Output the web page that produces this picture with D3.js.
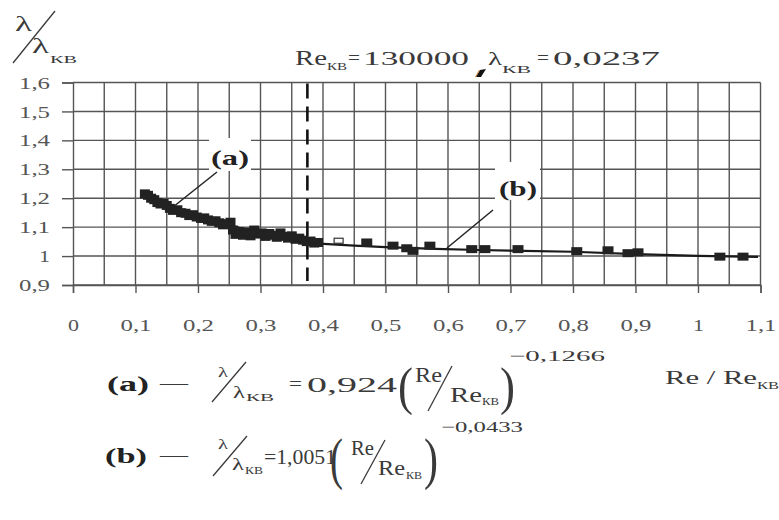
<!DOCTYPE html>
<html><head><meta charset="utf-8">
<script src="https://cdn.jsdelivr.net/npm/d3@7"></script>
<style>html,body{margin:0;padding:0;background:#fff;}svg{display:block;}</style>
</head><body>
<script>
// ---- data ----
const xTicks = [0,0.1,0.2,0.3,0.4,0.5,0.6,0.7,0.8,0.9,1.0,1.1];
const xTickLabels = ["0","0,1","0,2","0,3","0,4","0,5","0,6","0,7","0,8","0,9","1","1,1"];
const yTicks = [0.9,1.0,1.1,1.2,1.3,1.4,1.5,1.6];
const yTickLabels = ["0,9","1","1,1","1,2","1,3","1,4","1,5","1,6"];
const xGrid = [0.05,0.1,0.15,0.2,0.25,0.3,0.35,0.4,0.45,0.5,0.55,0.6,0.65,0.7,0.75,0.8,0.85,0.9,0.95,1.0,1.05];
// series (a): dense points, Re/Re_kv < 0.4
const xA = [0.115,0.12,0.125,0.13,0.135,0.14,0.145,0.15,0.155,0.16,0.167,0.173,0.18,0.186,0.192,0.198,0.205,0.21,0.216,0.222,0.228,0.234,0.24,0.246,0.252,0.256,0.26,0.266,0.272,0.278,0.284,0.29,0.296,0.302,0.308,0.314,0.32,0.326,0.332,0.338,0.344,0.35,0.356,0.362,0.368,0.374,0.38,0.386,0.392];
const yA = [1.215,1.21,1.2,1.195,1.185,1.18,1.182,1.175,1.165,1.158,1.16,1.15,1.148,1.14,1.143,1.135,1.13,1.132,1.125,1.12,1.122,1.115,1.108,1.112,1.117,1.09,1.075,1.085,1.072,1.083,1.07,1.09,1.076,1.08,1.068,1.078,1.072,1.065,1.08,1.068,1.062,1.07,1.058,1.062,1.055,1.05,1.052,1.045,1.047];
// series (b): square markers
const xB = [0.47,0.512,0.534,0.544,0.571,0.638,0.659,0.712,0.806,0.856,0.888,0.904,1.035,1.072];
const yB = [1.047,1.036,1.027,1.018,1.036,1.024,1.024,1.024,1.017,1.02,1.01,1.013,0.998,0.998];
const xOpen = [0.425];
const yOpen = [1.053];
// fitted curves as seen in the picture
const lineAx = [0.115,0.15,0.2,0.25,0.3,0.35,0.38];
const lineAy = [1.212,1.175,1.14,1.106,1.08,1.06,1.048];
const lineBx = [0.38,0.45,0.5,0.58,0.65,0.72,0.8,0.9,1.0,1.096];
const lineBy = [1.045,1.036,1.031,1.025,1.021,1.018,1.015,1.007,1.001,0.997];
const dashedX = 0.375;

// ---- drawing ----
const W = 779, H = 520;
const FONT = "Liberation Serif, Times New Roman, serif";
const INK = "#3a3a3a";
const svg = d3.select("body").append("svg").attr("width", W).attr("height", H);
svg.append("rect").attr("width", W).attr("height", H).attr("fill", "#fff");

const x = d3.scaleLinear().domain([0, 1.1]).range([73, 760.5]);
const y = d3.scaleLinear().domain([0.9, 1.6]).range([285, 82.5]);

const grid = svg.append("g").attr("stroke", "#555").attr("stroke-width", 1.4);
grid.selectAll("line.v").data(xGrid).join("line")
  .attr("x1", d => x(d)).attr("x2", d => x(d)).attr("y1", y(1.6)).attr("y2", y(0.9));
grid.selectAll("line.h").data(yTicks).join("line")
  .attr("x1", x(0)).attr("x2", x(1.1)).attr("y1", d => y(d)).attr("y2", d => y(d));
grid.append("line").attr("x1", x(1.1)).attr("x2", x(1.1)).attr("y1", y(1.6)).attr("y2", y(0.9));

// axes
const fx = d => xTickLabels[xTicks.indexOf(d)];
const fy = d => yTickLabels[yTicks.indexOf(d)];
const gx = svg.append("g").attr("transform", `translate(0,${y(0.9)})`)
  .call(d3.axisBottom(x).tickValues(xTicks).tickFormat(fx).tickSize(8).tickPadding(26));
const gy = svg.append("g").attr("transform", `translate(${x(0)},0)`)
  .call(d3.axisLeft(y).tickValues(yTicks).tickFormat(fy).tickSize(11).tickPadding(12));
[gx, gy].forEach(g => {
  g.select(".domain").attr("stroke", "#555").attr("stroke-width", 1.4);
  g.selectAll(".tick line").attr("stroke", "#555").attr("stroke-width", 1.4);
  g.selectAll("text").attr("font-family", FONT).attr("font-size", 16).attr("fill", "#555")
    .attr("lengthAdjust", "spacingAndGlyphs")
    .attr("textLength", function(){ return this.textContent.length === 1 ? 11 : 31; });
});
gx.selectAll("text").attr("dy", "0").attr("y", 46);
gy.selectAll("text").attr("x", -23).attr("dy", "0.35em");

// dashed marker
svg.append("line").attr("x1", x(dashedX)).attr("x2", x(dashedX))
  .attr("y1", y(1.6) + 1).attr("y2", y(0.9) - 4)
  .attr("stroke", "#111").attr("stroke-width", 2.6).attr("stroke-dasharray", "15,8");

// annotation label boxes (white)
svg.append("rect").attr("x", 209).attr("y", 138).attr("width", 42).attr("height", 33).attr("fill", "#fff");
svg.append("rect").attr("x", 495).attr("y", 162).attr("width", 45).attr("height", 38).attr("fill", "#fff");

// curves
const line = d3.line().x(d => x(d[0])).y(d => y(d[1]));
svg.append("path").datum(d3.zip(lineAx, lineAy)).attr("d", line)
  .attr("fill", "none").attr("stroke", "#1a1a1a").attr("stroke-width", 2.2);
svg.append("path").datum(d3.zip(lineBx, lineBy)).attr("d", line)
  .attr("fill", "none").attr("stroke", "#1a1a1a").attr("stroke-width", 2.2);

// points (a)
svg.append("g").selectAll("rect").data(d3.zip(xA, yA)).join("rect")
  .attr("x", d => x(d[0]) - 5).attr("y", d => y(d[1]) - 4.5).attr("width", 10).attr("height", 9)
  .attr("fill", "#222");
// points (b)
svg.append("g").selectAll("rect").data(d3.zip(xB, yB)).join("rect")
  .attr("x", d => x(d[0]) - 5.5).attr("y", d => y(d[1]) - 4).attr("width", 11).attr("height", 8)
  .attr("fill", "#222");
svg.append("g").selectAll("rect").data(d3.zip(xOpen, yOpen)).join("rect")
  .attr("x", d => x(d[0]) - 4.5).attr("y", d => y(d[1]) - 2.5).attr("width", 9).attr("height", 5)
  .attr("fill", "#fff").attr("stroke", "#333").attr("stroke-width", 1.2);

// leader lines
svg.append("line").attr("x1", 217).attr("y1", 172).attr("x2", 173).attr("y2", 207).attr("stroke", "#222").attr("stroke-width", 1.5);
svg.append("line").attr("x1", 493).attr("y1", 210).attr("x2", 447).attr("y2", 248).attr("stroke", "#222").attr("stroke-width", 1.5);

// text helper
function T(px, py, s, o = {}) {
  const t = svg.append("text").attr("x", px).attr("y", py).text(s)
    .attr("font-family", FONT).attr("font-size", o.size || 18)
    .attr("font-weight", o.bold ? "bold" : "normal")
    .attr("fill", o.fill || INK).attr("text-anchor", o.anchor || "start");
  if (o.w) t.attr("textLength", o.w).attr("lengthAdjust", "spacingAndGlyphs");
  return t;
}
function L(x1, y1, x2, y2, w = 1.3) {
  svg.append("line").attr("x1", x1).attr("y1", y1).attr("x2", x2).attr("y2", y2)
    .attr("stroke", INK).attr("stroke-width", w);
}

// annotation labels
T(211, 165, "(a)", {size: 22, bold: true, w: 38, fill: "#222"});
T(499, 196, "(b)", {size: 22, bold: true, w: 38, fill: "#222"});

// y-axis title
T(15, 31, "λ", {size: 22, w: 17});
L(13, 63, 55, 11);
T(32, 53, "λ", {size: 22, w: 17});
T(50, 63, "КВ", {size: 10, w: 27});

// title
T(295, 65, "Re", {size: 20, w: 32});
T(327, 70, "КВ", {size: 10, w: 20});
T(348, 64, "=", {size: 18, w: 12});
T(363, 65, "130000", {size: 19, w: 106});
svg.append("path").attr("d", "M476,77 L480,70 L486,69 L481,77 Z").attr("fill", "#111");
svg.append("line").attr("x1", 475.5).attr("y1", 77).attr("x2", 479.5).attr("y2", 70).attr("stroke", "#d08030").attr("stroke-width", 1);
T(488, 65, "λ", {size: 19, w: 14});
T(502, 73, "КВ", {size: 10, w: 29});
T(537, 64, "=", {size: 18, w: 12});
T(553, 65, "0,0237", {size: 19, w: 107});

// formula (a)
T(107, 391, "(a)", {size: 20, bold: true, w: 42, fill: "#222"});
T(160, 389, "—", {size: 18, w: 28});
T(218, 377, "λ", {size: 15, w: 10});
L(212, 402, 246, 362);
T(233, 398, "λ", {size: 17, w: 12});
T(246, 401, "КВ", {size: 10, w: 28});
T(289, 390, "=", {size: 18, w: 13});
T(307, 392, "0,924", {size: 20, w: 90});
T(398, 404, "(", {size: 52, w: 15});
T(415, 382, "Re", {size: 20, w: 27});
L(428, 411, 452, 366);
T(450, 402, "Re", {size: 20, w: 32});
T(482, 405, "КВ", {size: 10, w: 17});
T(500, 404, ")", {size: 52, w: 15});
T(509, 361, "−0,1266", {size: 15, w: 96});
T(665, 384, "Re / Re", {size: 19, w: 92});
T(757, 389, "КВ", {size: 10, w: 22});

// formula (b)
T(105, 463, "(b)", {size: 20, bold: true, w: 42, fill: "#222"});
T(160, 461, "—", {size: 18, w: 28});
T(218, 449, "λ", {size: 15, w: 10});
L(213, 476, 247, 436);
T(232, 470, "λ", {size: 17, w: 12});
T(245, 474, "КВ", {size: 10, w: 18});
T(264, 464, "=1,0051", {size: 20, w: 72});
T(330, 478, "(", {size: 56, w: 13});
T(351, 455, "Re", {size: 20, w: 23});
L(361, 484, 385, 440);
T(378, 475, "Re", {size: 20, w: 27});
T(406, 479, "КВ", {size: 10, w: 16});
T(424, 478, ")", {size: 56, w: 14});
T(441, 432, "−0,0433", {size: 15, w: 82});
</script>
</body></html>
